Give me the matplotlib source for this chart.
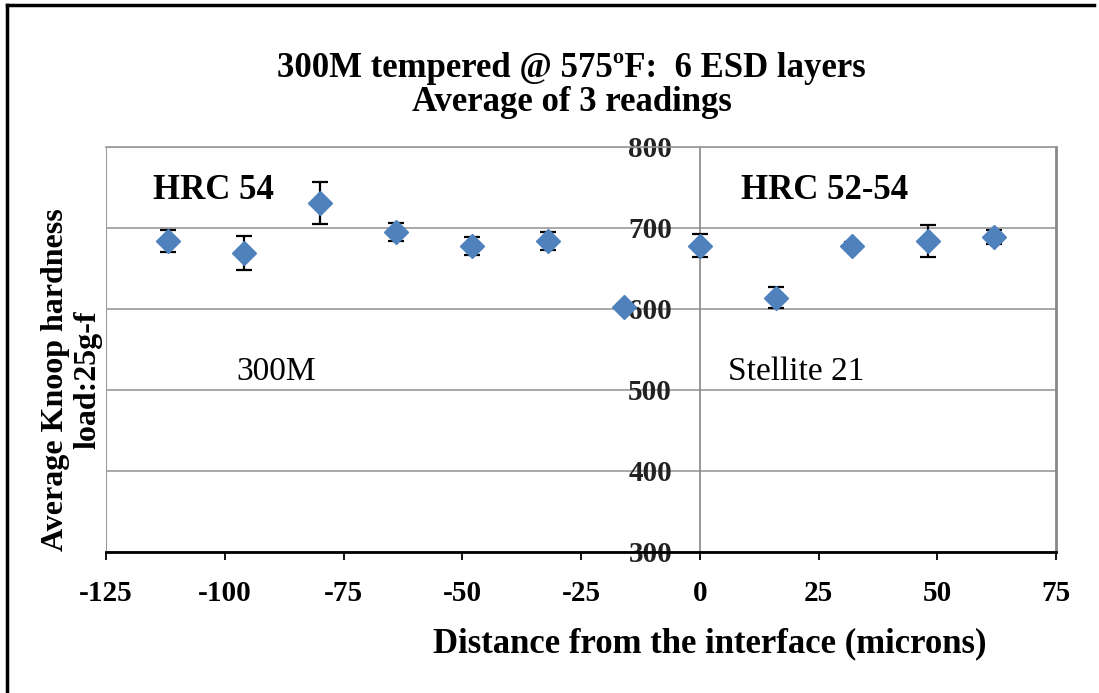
import matplotlib
matplotlib.use("Agg")
import matplotlib.pyplot as plt
from matplotlib.lines import Line2D

# data
distance = [-112, -96, -80, -64, -48, -32, -16, 0, 16, 32, 48, 62]
hardness = [684, 669, 731, 695, 678, 684, 603, 678, 614, 678, 684, 689]
err = [14, 21, 26, 11, 11, 11, 3, 14, 13, 5, 20, 9]

x_ticks = [-125, -100, -75, -50, -25, 0, 25, 50, 75]
y_ticks = [300, 400, 500, 600, 700, 800]

plt.rcParams["font.family"] = ["Liberation Serif", "DejaVu Serif"]
plt.rcParams["axes.unicode_minus"] = False

fig = plt.figure(figsize=(10.99, 6.93), dpi=100)
ax = fig.add_axes([0.0965, 0.2035, 0.8645, 0.5845])

ax.errorbar(distance, hardness, yerr=err, fmt="D", color="#4F81BD",
            markersize=12, ecolor="black", elinewidth=1.6, capsize=5.5,
            capthick=1.6, zorder=3)

ax.set_xlim(x_ticks[0], x_ticks[-1])
ax.set_ylim(y_ticks[0], y_ticks[-1])
ax.set_xticks(x_ticks)
ax.set_yticks(y_ticks)
ax.grid(axis="y", color="#999999", linewidth=1.2)

# y axis crosses at zero
ax.spines["left"].set_position(("data", 0))
ax.spines["left"].set_color("#888888")
ax.spines["left"].set_linewidth(1.2)
ax.spines["top"].set_color("#999999")
ax.spines["top"].set_linewidth(1.2)
ax.spines["right"].set_color("#888888")
ax.spines["right"].set_linewidth(2)
ax.spines["bottom"].set_color("black")
ax.spines["bottom"].set_linewidth(2)
ax.axvline(x_ticks[0], color="#999999", linewidth=1.5, zorder=0)

ax.tick_params(axis="y", length=0, pad=20, labelsize=21, labelcolor="#222222")
ax.tick_params(axis="x", length=6, width=1.3, direction="out", pad=14, labelsize=21)
for lab in ax.get_xticklabels() + ax.get_yticklabels():
    lab.set_fontweight("bold")

ax.set_xlabel("Distance from the interface (microns)", fontsize=25,
              fontweight="bold")
ax.xaxis.set_label_coords(0.635, -0.185)
ax.set_ylabel("Average Knoop hardness\nload:25g-f", fontsize=23,
              fontweight="bold", linespacing=1.15)
ax.yaxis.set_label_coords(-0.004, 0.425)

fig.text(0.52, 0.877, "300M tempered @ 575ºF:  6 ESD layers\nAverage of 3 readings",
         ha="center", va="center", fontsize=25, fontweight="bold", linespacing=1.05)

ax.text(-115.2, 746, "HRC 54", fontsize=25, fontweight="bold", va="center")
ax.text(8.6, 746, "HRC 52-54", fontsize=25, fontweight="bold", va="center")
ax.text(-97.5, 522, "300M", fontsize=24, va="center")
ax.text(5.9, 522, "Stellite 21", fontsize=24, va="center")

# outer frame (top and left edges)
fig.add_artist(Line2D([0.0064, 0.0064], [0, 0.993], color="black", linewidth=2.5,
                      transform=fig.transFigure))
fig.add_artist(Line2D([0.0064, 0.995], [0.993, 0.993], color="black", linewidth=2.5,
                      transform=fig.transFigure))

fig.savefig("out.png", dpi=100)
